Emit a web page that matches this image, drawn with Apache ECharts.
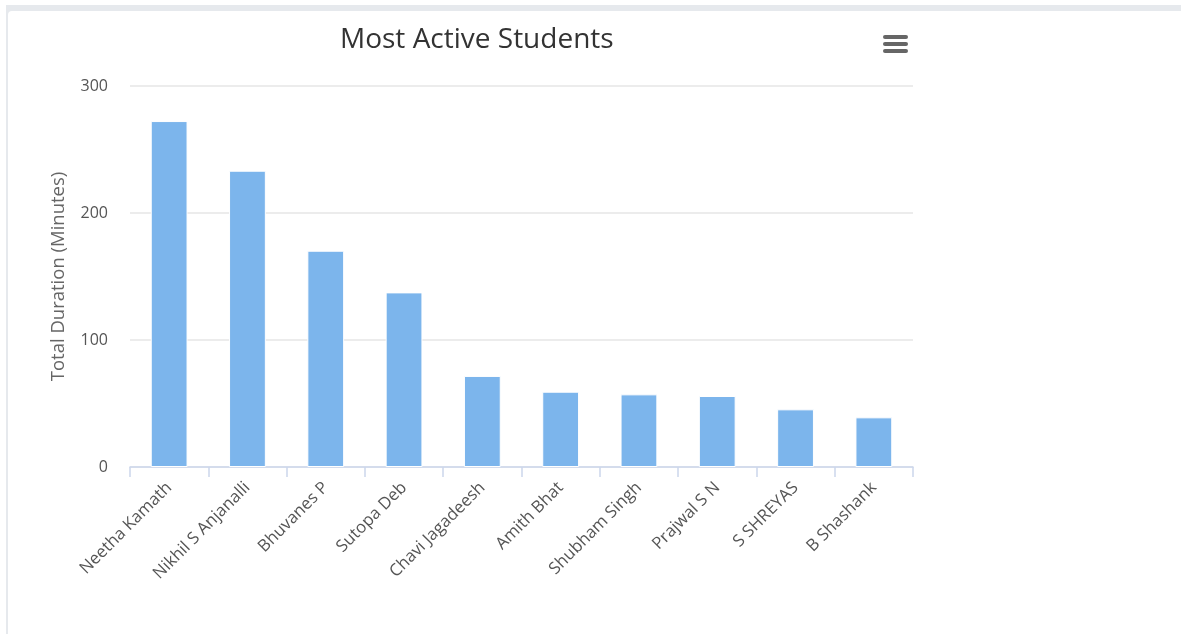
<!DOCTYPE html>
<html>
<head>
<meta charset="utf-8">
<script src="https://cdn.jsdelivr.net/npm/echarts@6/dist/echarts.min.js"></script>
<style>
  html, body { margin:0; padding:0; width:1181px; height:634px; background:#fff; overflow:hidden; }
  #bg { position:absolute; left:6px; top:5px; width:1175px; height:629px; background:#e6e9ed; }
  #card { position:absolute; left:8px; top:11px; width:1173px; height:623px; background:#fff; border-top-left-radius:4px; }
  #chart { position:absolute; left:0; top:0; width:1181px; height:634px; }
</style>
</head>
<body>
<div id="bg"></div>
<div id="card"></div>
<div id="chart"></div>
<script>
const titleText = "Most Active Students";
const yAxisTitle = "Total Duration (Minutes)";
const categories = ["Neetha Kamath", "Nikhil S Anjanalli", "Bhuvanes P", "Sutopa Deb", "Chavi Jagadeesh", "Amith Bhat", "Shubham Singh", "Prajwal S N", "S SHREYAS", "B Shashank"];
const durations = [272.4, 233.3, 170.3, 137.5, 71.7, 59.3, 57.2, 55.9, 45.4, 39.1];
const yTicks = [0, 100, 200, 300];

const chart = echarts.init(document.getElementById('chart'), null, { renderer: 'canvas' });
const font = "'Open Sans', 'Noto Sans', sans-serif";
chart.setOption({
  backgroundColor: 'transparent',
  animation: false,
  textStyle: { fontFamily: font },
  title: {
    text: titleText,
    left: 335,
    top: 21,
    textStyle: { fontFamily: font, fontSize: 28, fontWeight: 500, color: '#333333' }
  },
  grid: { left: 130, right: 268, top: 86, bottom: 167, containLabel: false },
  xAxis: {
    type: 'category',
    data: categories,
    axisLine: { show: true, lineStyle: { color: '#ccd6eb', width: 1.5 } },
    axisTick: { show: true, length: 10, lineStyle: { color: '#ccd6eb', width: 1.5 } },
    axisLabel: { rotate: 45, margin: 18, fontSize: 16.8, color: '#555555', fontFamily: font, interval: 0 },
    splitLine: { show: false }
  },
  yAxis: {
    type: 'value',
    min: yTicks[0],
    max: yTicks[yTicks.length - 1],
    interval: 100,
    name: yAxisTitle,
    nameLocation: 'middle',
    nameGap: 62,
    nameRotate: 90,
    nameTextStyle: { fontSize: 18.5, color: '#666666', fontFamily: font },
    axisLine: { show: false },
    axisTick: { show: false },
    axisLabel: { margin: 22, fontSize: 16, color: '#555555', fontFamily: font },
    splitLine: { lineStyle: { color: '#e6e6e6', width: 1.5 } }
  },
  series: [{
    type: 'bar',
    data: durations,
    barWidth: '47%',
    itemStyle: { color: '#7cb5ec', borderColor: '#ffffff', borderWidth: 1 }
  }],
  graphic: [
    { type: 'rect', left: 883, top: 35, shape: { width: 25, height: 4, r: 2 }, style: { fill: '#666666' } },
    { type: 'rect', left: 883, top: 42, shape: { width: 25, height: 4, r: 2 }, style: { fill: '#666666' } },
    { type: 'rect', left: 883, top: 49, shape: { width: 25, height: 4, r: 2 }, style: { fill: '#666666' } }
  ]
});
</script>
</body>
</html>
